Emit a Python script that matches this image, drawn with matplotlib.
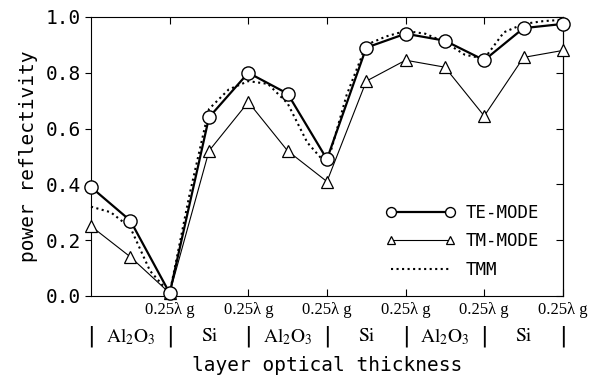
import numpy as np
import matplotlib.pyplot as plt
from matplotlib import transforms

# layer boundaries (in quarter-wave units) and measured points at half steps
x_meas = [0, 0.5, 1, 1.5, 2, 2.5, 3, 3.5, 4, 4.5, 5, 5.5, 6]
te_mode = [0.39, 0.27, 0.01, 0.64, 0.80, 0.725, 0.49, 0.89, 0.94, 0.915, 0.845, 0.96, 0.975]
tm_mode = [0.25, 0.14, 0.01, 0.52, 0.695, 0.52, 0.41, 0.77, 0.845, 0.82, 0.645, 0.855, 0.88]

x_tmm = [0, 0.25, 0.5, 0.75, 1.0, 1.25, 1.5, 1.75, 2.0, 2.25, 2.5, 2.75, 3.0,
         3.25, 3.5, 3.75, 4.0, 4.25, 4.5, 4.75, 5.0, 5.25, 5.5, 5.75, 6.0]
tmm = [0.32, 0.30, 0.245, 0.09, 0.01, 0.36, 0.67, 0.74, 0.77, 0.76, 0.69, 0.55, 0.47,
       0.72, 0.90, 0.93, 0.95, 0.94, 0.91, 0.865, 0.85, 0.945, 0.975, 0.985, 0.99]

tick_pos = [1, 2, 3, 4, 5, 6]
tick_labels = ['0.25\u03bb g'] * 6
layer_pos = [0.5, 1.5, 2.5, 3.5, 4.5, 5.5]
layer_names = [r'Al$_2$O$_3$', 'Si', r'Al$_2$O$_3$', 'Si', r'Al$_2$O$_3$', 'Si']
bounds = [0, 1, 2, 3, 4, 5, 6]

plt.rcParams['mathtext.fontset'] = 'stix'

fig = plt.figure(figsize=(5.95, 3.77), dpi=100)
ax = fig.add_axes([0.153, 0.215, 0.793, 0.74])

ax.plot(x_meas, te_mode, '-o', color='black', lw=1.6, ms=9.5, mfc='white',
        mec='black', mew=1.0, label='TE-MODE', zorder=4, clip_on=False)
ax.plot(x_meas, tm_mode, '-^', color='black', lw=0.8, ms=8.5, mfc='white',
        mec='black', mew=0.9, label='TM-MODE', zorder=3, clip_on=False)
ax.plot(x_tmm, tmm, ':', color='black', lw=1.5, label='TMM', zorder=2, clip_on=False)

ax.set_xlim(0, 6)
ax.set_ylim(0, 1.0)
ax.set_yticks(np.arange(0, 1.01, 0.2))
ax.set_yticklabels(['0.0', '0.2', '0.4', '0.6', '0.8', '1.0'],
                   family='DejaVu Sans Mono', fontsize=14)
ax.set_xticks(tick_pos)
ax.set_xticklabels(tick_labels, family='Liberation Serif', fontsize=12)
ax.tick_params(axis='x', direction='in', top=True, length=5, width=0.8, pad=4)
ax.tick_params(axis='y', direction='out', length=4, width=0.8, pad=3)
for s in ax.spines.values():
    s.set_linewidth(0.8)

ry = ax.secondary_yaxis('right')
ry.set_yticks(np.arange(0, 1.01, 0.2))
ry.tick_params(direction='in', length=5, width=0.8, labelright=False)
ry.spines['right'].set_linewidth(0.8)

ax.set_ylabel('power reflectivity', family='DejaVu Sans Mono', fontsize=14, labelpad=6)

# layer names row under the tick labels
trans = transforms.blended_transform_factory(ax.transData, ax.transAxes)
for b in bounds:
    ax.text(b, -0.145, '|', transform=trans, ha='center', va='center',
            family='DejaVu Sans', fontsize=16, clip_on=False)
for p, name in zip(layer_pos, layer_names):
    ax.text(p, -0.145, name, transform=trans, ha='center', va='center',
            family='STIXGeneral', fontsize=14, clip_on=False)
ax.text(3, -0.25, 'layer optical thickness', transform=trans, ha='center',
        va='center', family='DejaVu Sans Mono', fontsize=14, clip_on=False)

leg = ax.legend(loc='upper left', bbox_to_anchor=(0.61, 0.355), frameon=False,
                numpoints=2, markerscale=0.75, handlelength=4.0, handletextpad=0.6,
                labelspacing=0.6, borderaxespad=0,
                prop={'family': 'DejaVu Sans Mono', 'size': 12.5})

fig.savefig('out.png', dpi=100)
